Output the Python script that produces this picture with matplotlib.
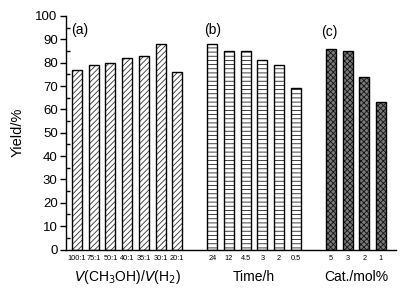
import matplotlib
matplotlib.use("Agg")
import matplotlib.pyplot as plt
from matplotlib.ticker import MultipleLocator
import numpy as np

plt.rcParams['font.family'] = ['Liberation Sans', 'DejaVu Sans']

# Data
ratio_labels = ["100:1", "75:1", "50:1", "40:1", "35:1", "30:1", "20:1"]
ratio_yield = [77, 79, 80, 82, 83, 88, 76]
time_labels = ["24", "12", "4.5", "3", "2", "0.5"]
time_yield = [88, 85, 85, 81, 79, 69]
cat_labels = ["5", "3", "2", "1"]
cat_yield = [86, 85, 74, 63]
panel_tags = ["(a)", "(b)", "(c)"]
x_titles = [r"$V$(CH$_3$OH)/$V$(H$_2$)", "Time/h", "Cat./mol%"]
y_title = "Yield/%"

fig = plt.figure(figsize=(4.09, 2.89), dpi=100)
ax = fig.add_axes([66/409, 1-249.5/289, (396-66)/409, (249.5-16)/289])

plt.rcParams['hatch.linewidth'] = 0.6
groups = [
    (ratio_labels, ratio_yield, 0.0, '//////', '#333333', 'white'),
    (time_labels, time_yield, 8.1, '----', '#222222', 'white'),
    (cat_labels, cat_yield, 15.2, 'xxxxxx', '#111111', '#7a7a7a'),
]
width = 0.6

all_pos, all_lab = [], []
centers = []
for labels, vals, start, hatch, hcol, fcol in groups:
    pos = start + np.arange(len(vals))
    ax.bar(pos, vals, width, color=fcol, edgecolor=hcol, hatch=hatch, linewidth=0, zorder=2)
    ax.bar(pos, vals, width, fill=False, edgecolor='black', linewidth=1.0, zorder=3)
    all_pos.extend(pos)
    all_lab.extend(labels)
    centers.append((pos[0], pos.mean()))

ax.set_xlim(-0.66, 19.1)
ax.set_ylim(0, 100)
ax.set_xticks(all_pos)
ax.set_xticklabels(all_lab, fontsize=5.3)
ax.tick_params(axis='x', length=0, pad=4)
ax.yaxis.set_major_locator(MultipleLocator(10))
ax.yaxis.set_minor_locator(MultipleLocator(5))
ax.tick_params(axis='y', which='major', direction='out', length=4, width=1, labelsize=9.5, pad=2)
ax.tick_params(axis='y', which='minor', direction='in', length=3, width=1)
for s in ['top', 'right']:
    ax.spines[s].set_visible(False)
for s in ['left', 'bottom']:
    ax.spines[s].set_linewidth(1.0)

ax.set_ylabel(y_title, fontsize=10.5, labelpad=8)

tag_offsets = [(-0.35, 94), (-0.5, 94), (-0.58, 93)]
for (first, center), tag, title, (dx, ty) in zip(centers, panel_tags, x_titles, tag_offsets):
    ax.text(first + dx, ty, tag, fontsize=10, ha='left', va='center')
    ax.text(center, -0.118, title, fontsize=10, ha='center', va='center',
            transform=ax.get_xaxis_transform())

fig.savefig("out.png", dpi=100)
